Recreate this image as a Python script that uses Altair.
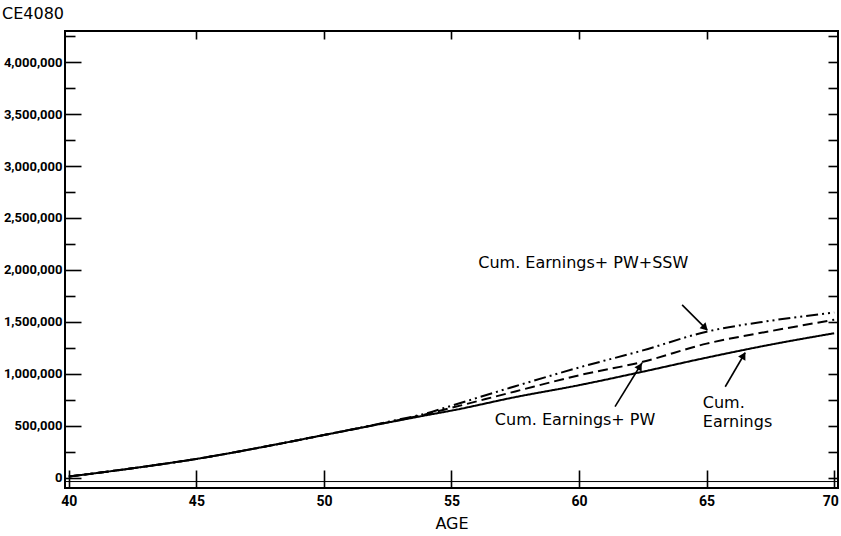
import altair as alt
import pandas as pd

# ---------------- data ----------------
ages = [40, 42.5, 45, 47.5, 50, 52.5, 54, 55, 57.5, 60, 62.5, 65, 67.5, 70]
cum_earnings = [10000, 90000, 180000, 290000, 410000, 530000, 600000, 645000, 775000, 890000, 1020000, 1155000, 1280000, 1390000]
cum_earn_pw = [10000, 90000, 180000, 290000, 410000, 532000, 610000, 672000, 830000, 985000, 1115000, 1290000, 1410000, 1520000]
cum_earn_pw_ssw = [10000, 90000, 180000, 290000, 410000, 537000, 618000, 692000, 880000, 1060000, 1225000, 1405000, 1510000, 1590000]
series_names = ["Cum. Earnings", "Cum. Earnings + PW", "Cum. Earnings + PW + SSW"]

x_ticks = [40, 45, 50, 55, 60, 65, 70]
x_top_ticks = [45, 50, 55, 60, 65]
y_major = [0, 500000, 1000000, 1500000, 2000000, 2500000, 3000000, 3500000, 4000000]
y_minor = [250000, 750000, 1250000, 1750000, 2250000, 2750000, 3250000, 3750000, 4250000]
y_right = [i * 250000 for i in range(18)]

X_DOMAIN = [39.85, 70.15]
Y_DOMAIN = [-100000, 4300000]
BASELINE = -38000

label_texts = ["Cum. Earnings+ PW+SSW", "Cum. Earnings+ PW", "Cum.", "Earnings"]
label_ages = [56.05, 56.7, 64.85, 64.85]
label_values = [2067000, 558000, 720000, 538000]

arrow_start_age = [64.04, 61.41, 65.73]
arrow_start_val = [1663000, 683000, 875000]
arrow_end_age = [65.02, 62.47, 66.51]
arrow_end_val = [1423000, 1106000, 1202000]
arrow_angle = [135, 31, 30]

# ---------------- tables ----------------
rows = []
for name, vals in zip(series_names, [cum_earnings, cum_earn_pw, cum_earn_pw_ssw]):
    for a, v in zip(ages, vals):
        rows.append({"age": a, "value": v, "series": name})
df = pd.DataFrame(rows)

labels_df = pd.DataFrame({"age": label_ages, "value": label_values, "text": label_texts})
arrows_df = pd.DataFrame({"age": arrow_start_age, "value": arrow_start_val,
                          "age2": arrow_end_age, "value2": arrow_end_val, "angle": arrow_angle})
heads_df = pd.DataFrame({
    "age": [e - 0.08 * (e - s) for s, e in zip(arrow_start_age, arrow_end_age)],
    "value": [e - 0.08 * (e - s) for s, e in zip(arrow_start_val, arrow_end_val)],
    "angle": arrow_angle,
})
base_df = pd.DataFrame({"value": [BASELINE]})

NUM_FONT = "Roboto"
TXT_FONT = "DejaVu Sans"


def X(axis, field="age"):
    return alt.X(f"{field}:Q", scale=alt.Scale(domain=X_DOMAIN, nice=False, zero=False), axis=axis)


def Y(axis, field="value"):
    return alt.Y(f"{field}:Q", scale=alt.Scale(domain=Y_DOMAIN, nice=False, zero=False), axis=axis)


def tick_axis(orient, values, size, offset):
    return alt.Axis(orient=orient, values=values, tickSize=size, offset=offset, labels=False,
                    domain=False, grid=False, title=None, ticks=True, tickColor="black", tickWidth=1.6)


lines = alt.Chart(df).mark_line(color="black", strokeWidth=2, interpolate="monotone").encode(
    x=X(alt.Axis(orient="bottom", values=x_ticks, ticks=False, domain=False, grid=False,
                 labelFont=NUM_FONT, labelFontSize=14, labelFontWeight="bold", labelColor="black",
                 labelPadding=6, labelFlush=False,
                 labelOffset={"condition": {"test": "datum.value == 70", "value": -4}, "value": 0},
                 title="AGE", titleFont=TXT_FONT, titleFontSize=16,
                 titleFontWeight="normal", titleColor="black", titlePadding=7)),
    y=Y(alt.Axis(orient="left", values=y_major, format=",d", ticks=False, domain=False, grid=False,
                 labelFont=NUM_FONT, labelFontSize=13, labelFontWeight="bold", labelColor="black",
                 labelPadding=3, title=None)),
    strokeDash=alt.StrokeDash("series:N", legend=None,
                              scale=alt.Scale(domain=series_names,
                                              range=[[1, 0], [10, 5], [12, 4, 2, 4, 2, 4]])),
    detail="series:N",
)

t1 = alt.Chart(df).mark_point(opacity=0).encode(
    x=X(tick_axis("bottom", x_ticks, 18, -18)),
    y=Y(tick_axis("left", y_major, 16, -16)),
)
t2 = alt.Chart(df).mark_point(opacity=0).encode(
    x=X(tick_axis("top", x_top_ticks, 8, -8)),
    y=Y(tick_axis("left", y_minor, 10, -10)),
)
t3 = alt.Chart(df).mark_point(opacity=0).encode(
    x=X(None),
    y=Y(tick_axis("right", y_right, 10, -10)),
)

baseline = alt.Chart(base_df).mark_rule(color="black", strokeWidth=1).encode(y=Y(None))

texts = alt.Chart(labels_df).mark_text(align="left", baseline="middle", font=TXT_FONT,
                                        fontSize=16, color="black").encode(
    x=X(None), y=Y(None), text="text:N")

arrows = alt.Chart(arrows_df).mark_rule(color="black", strokeWidth=1.6).encode(
    x=X(None), y=Y(None), x2="age2:Q", y2="value2:Q")

heads = alt.Chart(heads_df).mark_point(shape="triangle-up", filled=True, color="black",
                                        size=70, opacity=1).encode(
    x=X(None), y=Y(None), angle=alt.Angle("angle:Q", scale=None))

chart = alt.layer(lines, t1, t2, t3, baseline, arrows, heads, texts).resolve_axis(
    x="independent", y="independent"
).properties(
    width=773, height=457,
    autosize=alt.AutoSizeParams(type="none"),
    padding={"left": 65, "top": 31, "right": 3, "bottom": 48},
    title=alt.TitleParams("CE4080", anchor="start", frame="group", dx=-63, offset=8,
                          font=TXT_FONT, fontSize=16, fontWeight="normal", color="black"),
    background="white",
).configure_view(stroke="black", strokeWidth=2)

chart.save("out.html", embed_options={"renderer": "svg", "actions": False})
